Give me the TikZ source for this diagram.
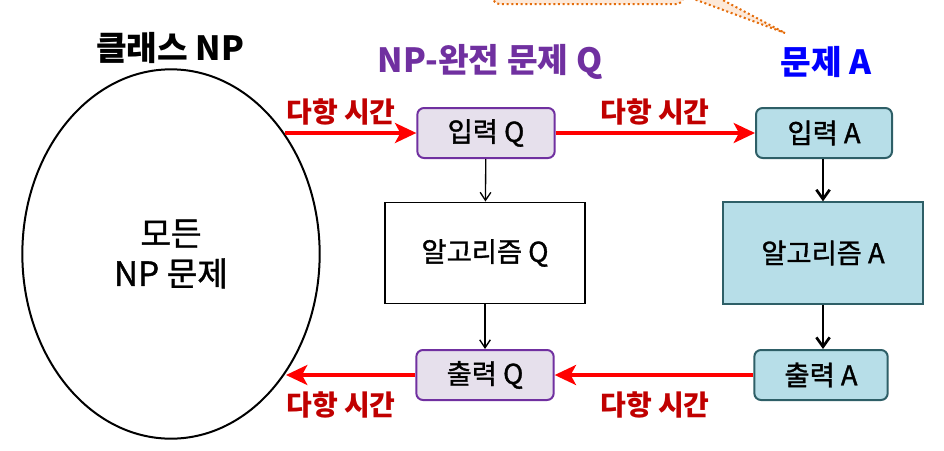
\documentclass[tikz,border=0pt]{standalone}
\usepackage{fontspec}
\setmainfont{Noto Sans CJK KR}
\newfontfamily\medfont{Noto Sans CJK KR}[FakeBold=1.2]
\usetikzlibrary{shapes.geometric,arrows.meta}
\definecolor{npurple}{HTML}{7030A0}
\definecolor{lavender}{HTML}{E6E0EC}
\definecolor{lightblue}{HTML}{B7DEE8}
\definecolor{darkteal}{HTML}{2E5F67}
\definecolor{darkred}{HTML}{C00000}
\definecolor{peach}{HTML}{FDE9D9}
\definecolor{calloutorange}{HTML}{E46C0A}

\begin{document}
\begin{tikzpicture}[%
      x=0.75pt, y=-0.75pt,
      qbox/.style={draw=npurple, fill=lavender, line width=1.5pt, rounded corners=5pt,
                   minimum width=103pt, minimum height=37.5pt, inner sep=0pt,
                   font=\fontsize{20.5}{24}\medfont},
      abox/.style={draw=darkteal, fill=lightblue, line width=1.5pt, rounded corners=5pt,
                   minimum width=102pt, minimum height=37.5pt, inner sep=0pt,
                   font=\fontsize{20.5}{24}\medfont},
      algbox/.style={draw, line width=1.2pt, minimum width=150pt, minimum height=76pt,
                   inner sep=0pt, font=\fontsize{20.5}{24}\medfont},
      title/.style={font=\fontsize{25}{30}\selectfont\bfseries},
      polylabel/.style={text=darkred, font=\fontsize{21}{25}\selectfont\bfseries},
      redarrow/.style={draw=red, line width=2.5pt, -{Stealth[length=16pt,width=15pt,inset=4pt]}},
      thinarrow/.style={draw, line width=1pt, -{Straight Barb[length=6pt,width=8pt]}},
      thickarrow/.style={draw, line width=2pt, -{Straight Barb[length=7pt,width=10pt]}},
      ]
      \useasboundingbox (0,0) rectangle (944,450);
      \clip (0,0) rectangle (944,450);

      % callout cut off at the top
      \draw [calloutorange, fill=peach, line width=1.5pt, dotted]
            (493,-40) -- (493,-2) [rounded corners=5pt] -- (493,4) -- (683,4) [sharp corners]
            -- (683,-5) -- (785,33) -- (683,-21) -- (683,-40);

      % class NP
      \node [title] (npname) at (170,48) {클래스 NP};
      \node [draw, ellipse, line width=1.5pt, minimum width=223pt, minimum height=277pt,
             inner sep=0pt, align=center, font=\fontsize{25}{30}\medfont]
            (np) at (171,254) {모든\\NP 문제};
      \coordinate (npin) at (285,133);
      \coordinate (npout) at (286,375);

      % NP-complete problem Q
      \node [title, text=npurple] (qname) at (490,62) {NP-완전 문제 Q};
      \node [qbox] (inq) at (486,133) {입력 Q};
      \node [algbox] (algq) at (485,253) {알고리즘 Q};
      \node [qbox] (outq) at (485,375) {출력 Q};

      % problem A
      \node [title, text=blue] (aname) at (826,62) {문제 A};
      \node [abox] (ina) at (824,133) {입력 A};
      \node [algbox, draw=darkteal, fill=lightblue, line width=1.5pt] (alga) at (823,253) {알고리즘 A};
      \node [abox, minimum width=100pt] (outa) at (821,375) {출력 A};

      % reductions
      \draw [redarrow] (npin) -- (inq);
      \draw [redarrow] (inq) -- (ina);
      \draw [redarrow] (outa) -- (outq);
      \draw [redarrow] (outq) -- (npout);

      \node [polylabel] (t1) at (341,112) {다항 시간};
      \node [polylabel] (t2) at (655,112) {다항 시간};
      \node [polylabel] (t3) at (341,405) {다항 시간};
      \node [polylabel] (t4) at (655,405) {다항 시간};

      % algorithms
      \draw [thinarrow] (inq) -- (algq);
      \draw [thinarrow] (algq) -- (outq);
      \draw [thickarrow] (ina.south -| alga) -- (alga);
      \draw [thickarrow] (alga) -- (alga |- outa.north);
      \end{tikzpicture}
\end{document}
